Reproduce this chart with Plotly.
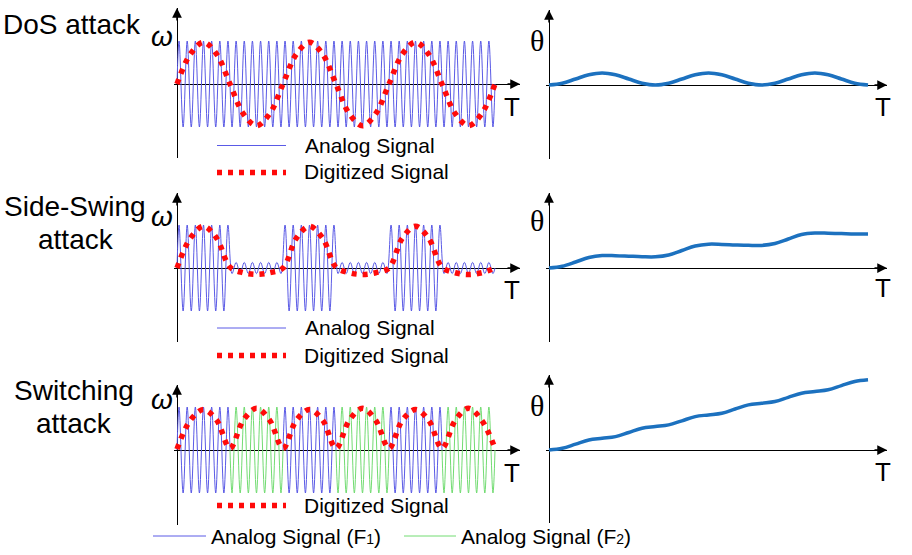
import plotly.graph_objects as go

W, H = 912, 555

# ---------------- data ----------------
# common time grid for digitized / phase curves (T in "hump" units, 6 per panel)
T_SAMPLES = [0.0, 0.25, 0.5, 0.75, 1.0, 1.25, 1.5, 1.75, 2.0, 2.25, 2.5, 2.75, 3.0,
             3.25, 3.5, 3.75, 4.0, 4.25, 4.5, 4.75, 5.0, 5.25, 5.5, 5.75, 6.0]

# analog carrier: signed peak value of every half-cycle, one list per T unit
HALF_CYCLES_PER_SEGMENT = 13

DOS_ANALOG_PEAKS = [
    [1, -1, 1, -1, 1, -1, 1, -1, 1, -1, 1, -1, 1],
    [-1, 1, -1, 1, -1, 1, -1, 1, -1, 1, -1, 1, -1],
    [1, -1, 1, -1, 1, -1, 1, -1, 1, -1, 1, -1, 1],
    [-1, 1, -1, 1, -1, 1, -1, 1, -1, 1, -1, 1, -1],
    [1, -1, 1, -1, 1, -1, 1, -1, 1, -1, 1, -1, 1],
    [-1, 1, -1, 1, -1, 1, -1, 1, -1, 1, -1, 1, -1],
]
DOS_DIGITIZED = [0, 0.69, 0.97, 0.69, 0, -0.69, -0.97, -0.69, 0, 0.69, 0.97, 0.69, 0,
                 -0.69, -0.97, -0.69, 0, 0.69, 0.97, 0.69, 0, -0.69, -0.97, -0.69, 0]
DOS_THETA = [0, 1.8, 6, 10.2, 12, 10.2, 6, 1.8, 0, 1.8, 6, 10.2, 12,
             10.2, 6, 1.8, 0, 1.8, 6, 10.2, 12, 10.2, 6, 1.8, 0]

SWING_ANALOG_PEAKS = [
    [1, -1, 1, -1, 1, -1, 1, -1, 1, -1, 1, -1, 1],
    [-0.13, 0.13, -0.13, 0.13, -0.13, 0.13, -0.13, 0.13, -0.13, 0.13, -0.13, 0.13, -0.13],
    [1, -1, 1, -1, 1, -1, 1, -1, 1, -1, 1, -1, 1],
    [-0.13, 0.13, -0.13, 0.13, -0.13, 0.13, -0.13, 0.13, -0.13, 0.13, -0.13, 0.13, -0.13],
    [1, -1, 1, -1, 1, -1, 1, -1, 1, -1, 1, -1, 1],
    [-0.13, 0.13, -0.13, 0.13, -0.13, 0.13, -0.13, 0.13, -0.13, 0.13, -0.13, 0.13, -0.13],
]
SWING_DIGITIZED = [0, 0.69, 0.97, 0.69, 0.02, -0.11, -0.15, -0.11, 0, 0.69, 0.97, 0.69, 0.02,
                   -0.11, -0.15, -0.11, 0, 0.69, 0.97, 0.69, 0.02, -0.11, -0.15, -0.11, 0]
SWING_THETA = [0, 1.8, 6, 10.5, 12.5, 12.3, 11.8, 11.3, 11.2, 13, 17.5, 22, 23.8,
               23.6, 23.1, 22.7, 22.6, 24.5, 29, 33.5, 35, 34.8, 34.4, 34, 34]

SWITCH_ANALOG_PEAKS = [
    [1, -1, 1, -1, 1, -1, 1, -1, 1, -1, 1, -1, 1],
    [-1, 1, -1, 1, -1, 1, -1, 1, -1, 1, -1, 1, -1],
    [1, -1, 1, -1, 1, -1, 1, -1, 1, -1, 1, -1, 1],
    [-1, 1, -1, 1, -1, 1, -1, 1, -1, 1, -1, 1, -1],
    [1, -1, 1, -1, 1, -1, 1, -1, 1, -1, 1, -1, 1],
    [-1, 1, -1, 1, -1, 1, -1, 1, -1, 1, -1, 1, -1],
]
SWITCH_SEGMENT_SOURCE = ["F1", "F2", "F1", "F2", "F1", "F2"]
SWITCH_DIGITIZED = [0.02, 0.69, 0.94, 0.69, 0.04, 0.69, 0.97, 0.69, 0.04, 0.69, 0.94, 0.69, 0.04,
                    0.69, 0.97, 0.69, 0.04, 0.69, 0.94, 0.69, 0.04, 0.69, 0.97, 0.69, 0.04]
SWITCH_THETA = [0, 1.7, 5.8, 10, 11.7, 13.4, 17.5, 21.7, 23.4, 25.1, 29.2, 33.4, 35.1,
                36.8, 41, 45.1, 46.8, 48.5, 52.7, 56.8, 58.5, 60.2, 64.4, 68.5, 70.2]

# ---------------- styles ----------------
C_F1 = "#5a5ae6"
C_F2 = "#72dc72"
C_DIG = "#ff0a0a"
C_THETA = "#1c71bf"
DIG_DASH = "5px,6px"
SANS = "Liberation Sans, Arial, sans-serif"
SERIF = "Liberation Serif, Times New Roman, serif"


def px(x):
    return x / W


def py(y):
    return 1 - y / H


def carrier_xy(peaks_by_segment, segments=None):
    xs, ys = [], []
    n = HALF_CYCLES_PER_SEGMENT
    if segments is None:
        xs.append(0.0)
        ys.append(0.0)
        for k, seg in enumerate(peaks_by_segment):
            for j, v in enumerate(seg):
                xs.append(k + (j + 0.5) / n)
                ys.append(v)
        xs.append(float(len(peaks_by_segment)))
        ys.append(0.0)
    else:
        for k in segments:
            seg = peaks_by_segment[k]
            xs.append(float(k))
            ys.append(0.0)
            for j, v in enumerate(seg):
                xs.append(k + (j + 0.5) / n)
                ys.append(v)
            xs.append(float(k + 1))
            ys.append(0.0)
            xs.append(None)
            ys.append(None)
    return xs, ys


fig = go.Figure()

# panel geometry in reference pixels:
# (origin_x, tip_x, px_per_unit_x, top, center, bottom, px_per_unit_y)
LEFT_PANELS = [(177, 520, 53.0, 8, 84, 158, 43.0),
               (177, 520, 53.0, 193, 268, 342, 43.0),
               (177, 520, 53.0, 385, 450, 525, 43.0)]
RIGHT_PANELS = [(549, 887, 53.17, 10, 85, 159, 1.0),
                (549, 887, 53.17, 193, 268, 342, 1.0),
                (549, 887, 53.17, 375, 450, 523, 1.0)]

layout_axes = {}
annotations = []
panel_list = []
for r in range(3):
    panel_list.append(LEFT_PANELS[r])
    panel_list.append(RIGHT_PANELS[r])

for i, (ox, tx, ppx, top, cen, bot, ppy) in enumerate(panel_list):
    n = i + 1
    xname = "xaxis" if n == 1 else f"xaxis{n}"
    yname = "yaxis" if n == 1 else f"yaxis{n}"
    xr = [-3 / ppx, (tx - ox) / ppx]
    yr = [-(bot - cen) / ppy, (cen - top) / ppy]
    common = dict(showgrid=False, showticklabels=False, ticks="", showline=False,
                  zeroline=True, zerolinecolor="black", zerolinewidth=1.3, fixedrange=True)
    layout_axes[xname] = dict(domain=[px(ox - 3), px(tx)], range=xr,
                              anchor=("y" if n == 1 else f"y{n}"), **common)
    layout_axes[yname] = dict(domain=[py(bot), py(top)], range=yr,
                              anchor=("x" if n == 1 else f"x{n}"), **common)
    xref = "x" if n == 1 else f"x{n}"
    yref = "y" if n == 1 else f"y{n}"
    # arrow heads
    annotations.append(dict(x=xr[1], y=0, ax=xr[1] - 14 / ppx, ay=0, xref=xref, yref=yref,
                            axref=xref, ayref=yref, text="", showarrow=True, arrowhead=2,
                            arrowsize=1.3, arrowwidth=1.5, arrowcolor="black", standoff=0))
    annotations.append(dict(x=0, y=yr[1], ax=0, ay=yr[1] - 14 / ppy, xref=xref, yref=yref,
                            axref=xref, ayref=yref, text="", showarrow=True, arrowhead=2,
                            arrowsize=1.3, arrowwidth=1.5, arrowcolor="black", standoff=0))


# ---------------- traces ----------------
def add_line(x, y, n, color, width, dash=None):
    fig.add_trace(go.Scatter(
        x=x, y=y, mode="lines", xaxis=("x" if n == 1 else f"x{n}"),
        yaxis=("y" if n == 1 else f"y{n}"),
        line=dict(color=color, width=width, dash=dash, shape="spline"),
        connectgaps=False, hoverinfo="skip", showlegend=False))


# row 1: DoS
x, y = carrier_xy(DOS_ANALOG_PEAKS)
add_line(x, y, 1, C_F1, 1)
add_line(T_SAMPLES, DOS_DIGITIZED, 1, C_DIG, 5.5, DIG_DASH)
add_line(T_SAMPLES, DOS_THETA, 2, C_THETA, 3.5)

# row 2: Side-Swing
x, y = carrier_xy(SWING_ANALOG_PEAKS)
add_line(x, y, 3, C_F1, 1)
add_line(T_SAMPLES, SWING_DIGITIZED, 3, C_DIG, 5.5, DIG_DASH)
add_line(T_SAMPLES, SWING_THETA, 4, C_THETA, 3.5)

# row 3: Switching
segs_f1 = [k for k, s in enumerate(SWITCH_SEGMENT_SOURCE) if s == "F1"]
segs_f2 = [k for k, s in enumerate(SWITCH_SEGMENT_SOURCE) if s == "F2"]
x, y = carrier_xy(SWITCH_ANALOG_PEAKS, segs_f1)
add_line(x, y, 5, C_F1, 1)
x, y = carrier_xy(SWITCH_ANALOG_PEAKS, segs_f2)
add_line(x, y, 5, C_F2, 1)
add_line(T_SAMPLES, SWITCH_DIGITIZED, 5, C_DIG, 5.5, DIG_DASH)
add_line(T_SAMPLES, SWITCH_THETA, 6, C_THETA, 3.5)


# ---------------- texts ----------------
def text(x, y, s, size, family=SANS, xanchor="center", italic=False):
    annotations.append(dict(x=px(x), y=py(y), xref="paper", yref="paper", text=s,
                            showarrow=False, xanchor=xanchor, yanchor="middle",
                            font=dict(size=size, family=family, color="black",
                                      style="italic" if italic else "normal")))


# row titles
text(72, 24, "DoS attack", 28)
text(75, 207, "Side-Swing", 28)
text(76, 239, "attack", 28)
text(74, 390, "Switching", 28)
text(74, 423, "attack", 28)

# axis labels
for (wy, ty, ty_r, thy) in [(36, 107, 107, 40), (216, 290, 288, 221), (399, 473, 472, 405)]:
    text(162, wy, "ω", 28, SANS, italic=True)
    text(512, ty, "T", 26)
    text(537, thy, "θ", 30, SERIF)
    text(883, ty_r, "T", 26)

# legends
shapes = []


def leg_line(x0, x1, y, color, width, dash="solid"):
    shapes.append(dict(type="line", xref="paper", yref="paper", x0=px(x0), x1=px(x1),
                       y0=py(y), y1=py(y), line=dict(color=color, width=width, dash=dash)))


leg_line(217, 286, 145.5, C_F1, 1)
text(303, 145, "Analog Signal", 21, xanchor="left")
leg_line(217, 286, 172.5, C_DIG, 5.5, DIG_DASH)
text(302, 172, "Digitized Signal", 21, xanchor="left")

leg_line(217, 286, 328, C_F1, 1)
text(303, 327, "Analog Signal", 21, xanchor="left")
leg_line(217, 286, 355.5, C_DIG, 5.5, DIG_DASH)
text(302, 355, "Digitized Signal", 21, xanchor="left")

leg_line(217, 286, 505.5, C_DIG, 5.5, DIG_DASH)
text(302, 505, "Digitized Signal", 21, xanchor="left")

leg_line(153, 206, 536, C_F1, 1)
text(209, 536, "Analog Signal (F<span style='font-size:14px'>1</span>)", 21, xanchor="left")
leg_line(404, 456, 536, C_F2, 1)
text(459, 536, "Analog Signal (F<span style='font-size:14px'>2</span>)", 21, xanchor="left")

fig.update_layout(
    width=W, height=H, autosize=False,
    margin=dict(l=0, r=0, t=0, b=0),
    paper_bgcolor="white", plot_bgcolor="rgba(0,0,0,0)",
    showlegend=False,
    annotations=annotations, shapes=shapes,
    **layout_axes,
)

fig.write_html("out.html", config={"displayModeBar": False},
               post_script="document.body.style.margin='0px';"
                           "document.body.style.overflow='hidden';")
